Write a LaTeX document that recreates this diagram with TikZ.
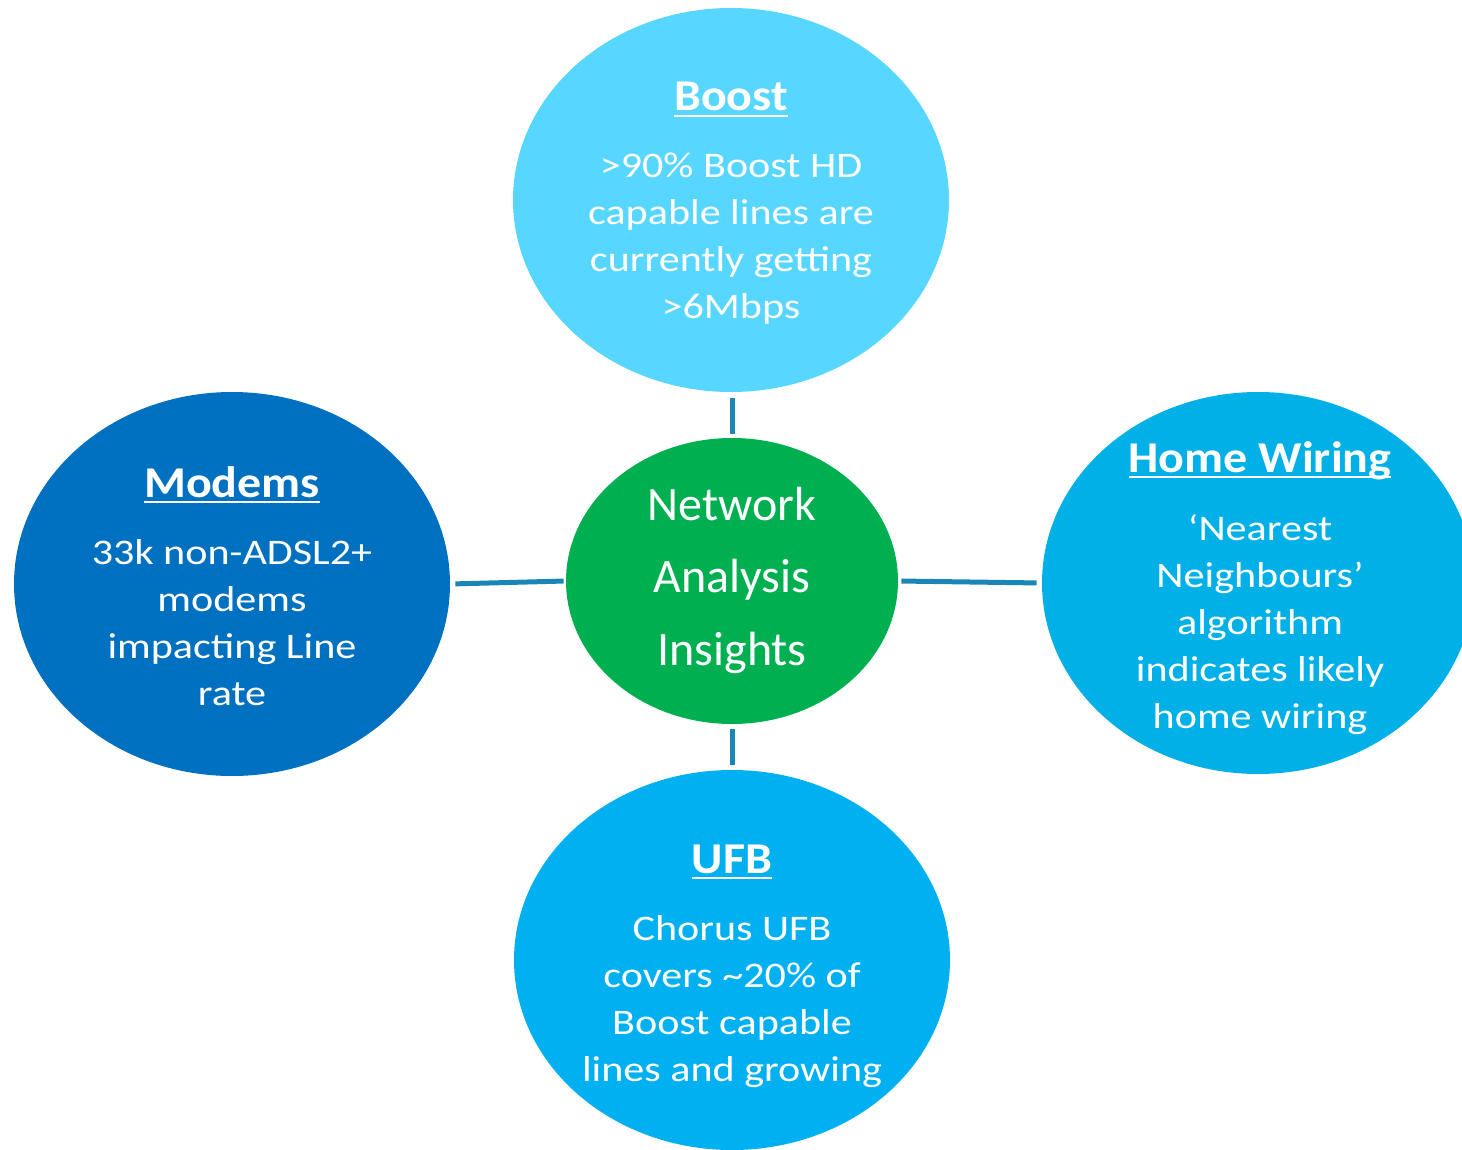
\documentclass[tikz,border=0pt]{standalone}
\usepackage{fontspec}
\setmainfont{Carlito}
\newfontfamily\bodyfont[FakeStretch=1.17]{Carlito}
\newfontfamily\ttlfont[FakeStretch=1.09]{Carlito}
\usetikzlibrary{shapes.geometric}
\definecolor{cBoost}{HTML}{57D6FF}
\definecolor{cModem}{HTML}{0070C0}
\definecolor{cCenter}{HTML}{00B050}
\definecolor{cHome}{HTML}{00B0E6}
\definecolor{cUFB}{HTML}{00B0F0}
\definecolor{cLine}{HTML}{1A86B5}
\newcommand{\myul}[1]{\setbox0\hbox{#1}\rlap{\rule[-3pt]{\wd0}{1.2pt}}\box0}
\begin{document}
\begin{tikzpicture}[x=0.5pt,y=-0.5pt,
  bubble/.style={ellipse, inner sep=0pt, draw=none},
  ttl/.style={anchor=base, inner sep=0pt, text=white, font=\ttlfont\bfseries\fontsize{22pt}{26pt}\selectfont},
  body/.style={anchor=base, inner sep=0pt, text=white, align=center, font=\bodyfont\fontsize{18pt}{23.5pt}\selectfont},
  mid/.style={anchor=base, inner sep=0pt, text=white, align=center, font=\fontsize{24pt}{36.25pt}\selectfont},
  conn/.style={draw=cLine, line width=2.5pt}]
\useasboundingbox (0,0) rectangle (1462,1150);
\clip (0,0) rectangle (1462,1150);
\node[bubble, fill=cBoost, minimum width=218pt, minimum height=192pt] (boost) at (731,200) {};
\node[bubble, fill=cModem, minimum width=218pt, minimum height=192pt] (modems) at (232,584) {};
\node[bubble, fill=cCenter, minimum width=166pt, minimum height=143pt] (center) at (732,581) {};
\node[bubble, fill=cHome, minimum width=216pt, minimum height=191pt] (home) at (1258,583) {};
\node[bubble, fill=cUFB, minimum width=218pt, minimum height=190pt] (ufb) at (732,960) {};

\draw[conn, shorten <=3pt, shorten >=2pt] (center.north |- boost.south) -- (center.north);
\draw[conn, shorten <=2.5pt, shorten >=1pt] (modems.east) -- (center.west);
\draw[conn, shorten <=1.5pt, shorten >=2.5pt] (center.east) -- (home.west);
\draw[conn, shorten <=2.5pt, shorten >=2.5pt] (center.south) -- (ufb.north);

\node[ttl] (boostT) at (731,111) {\myul{Boost}};
\node[body] (boostB) at (731,319) {>90\% Boost HD\\capable lines are\\currently getting\\>6Mbps};
\node[ttl] (modemsT) at (232,497) {\myul{Modems}};
\node[body] (modemsB) at (232,705) {33k non-ADSL2+\\modems\\impacting Line\\rate};
\node[ttl] (homeT) at (1260,472) {\myul{Home Wiring}};
\node[body] (homeB) at (1260,728) {‘Nearest\\Neighbours’\\algorithm\\indicates likely\\home wiring};
\node[ttl] (ufbT) at (732,873) {\myul{UFB}};
\node[body] (ufbB) at (732,1081) {Chorus UFB\\covers \textasciitilde20\% of\\Boost capable\\lines and growing};
\node[mid] (centerT) at (732,665) {Network\\Analysis\\Insights};
\end{tikzpicture}
\end{document}
